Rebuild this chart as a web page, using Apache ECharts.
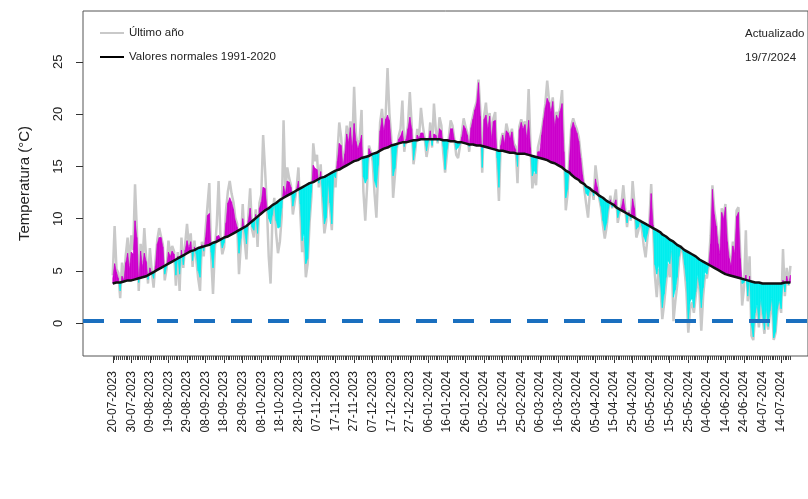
<!DOCTYPE html>
<html>
<head>
<meta charset="utf-8">
<script src="https://cdn.jsdelivr.net/npm/echarts@6/dist/echarts.min.js"></script>
<style>
  html, body { margin: 0; padding: 0; background: #ffffff; }
  #grafico { width: 808px; height: 499px; }
</style>
</head>
<body>
<div id="grafico"></div>
<script>
// Etiquetas del eje X: una cada 10 días desde el 20-07-2023
const etiquetasFecha = [
  '20-07-2023','30-07-2023','09-08-2023','19-08-2023','29-08-2023','08-09-2023',
  '18-09-2023','28-09-2023','08-10-2023','18-10-2023','28-10-2023','07-11-2023',
  '17-11-2023','27-11-2023','07-12-2023','17-12-2023','27-12-2023','06-01-2024',
  '16-01-2024','26-01-2024','05-02-2024','15-02-2024','25-02-2024','06-03-2024',
  '16-03-2024','26-03-2024','05-04-2024','15-04-2024','25-04-2024','05-05-2024',
  '15-05-2024','25-05-2024','04-06-2024','14-06-2024','24-06-2024','04-07-2024',
  '14-07-2024'
];

// Temperatura normal diaria 1991-2020 (°C), un valor por día desde el 20-07
const normales = [
  3.8,3.8,3.9,3.9,3.9,4.0,4.0,4.0,4.1,4.1,
  4.1,4.2,4.2,4.2,4.3,4.3,4.4,4.4,4.5,4.6,
  4.7,4.8,4.9,5.0,5.1,5.2,5.3,5.4,5.5,5.6,
  5.7,5.8,5.9,6.0,6.1,6.2,6.3,6.4,6.5,6.6,
  6.7,6.8,6.9,7.0,7.0,7.1,7.2,7.2,7.3,7.3,
  7.4,7.5,7.5,7.6,7.7,7.8,7.8,7.9,8.0,8.1,
  8.2,8.2,8.3,8.4,8.5,8.6,8.7,8.8,8.9,9.0,
  9.1,9.2,9.3,9.4,9.6,9.7,9.9,10.0,10.2,10.3,
  10.5,10.6,10.8,10.9,11.0,11.1,11.3,11.4,11.5,11.6,
  11.8,11.9,12.0,12.1,12.2,12.3,12.4,12.5,12.6,12.7,
  12.8,12.9,13.0,13.1,13.2,13.3,13.4,13.5,13.5,13.6,
  13.7,13.8,13.9,14.0,14.0,14.1,14.2,14.3,14.4,14.5,
  14.6,14.7,14.7,14.8,14.9,15.0,15.1,15.2,15.3,15.4,
  15.5,15.5,15.6,15.7,15.8,15.8,15.9,16.0,16.0,16.1,
  16.2,16.3,16.3,16.4,16.5,16.6,16.7,16.7,16.8,16.9,
  17.0,17.0,17.1,17.1,17.2,17.2,17.3,17.3,17.3,17.4,
  17.4,17.4,17.5,17.5,17.5,17.5,17.6,17.6,17.6,17.6,
  17.6,17.6,17.6,17.6,17.6,17.6,17.6,17.5,17.5,17.5,
  17.5,17.4,17.4,17.4,17.4,17.3,17.3,17.3,17.3,17.2,
  17.2,17.2,17.1,17.1,17.1,17.1,17.0,17.0,17.0,17.0,
  16.9,16.9,16.8,16.8,16.7,16.7,16.6,16.6,16.5,16.5,
  16.5,16.4,16.4,16.4,16.3,16.3,16.3,16.3,16.2,16.2,
  16.2,16.2,16.2,16.1,16.1,16.1,16.0,16.0,15.9,15.9,
  15.8,15.8,15.7,15.6,15.6,15.5,15.4,15.4,15.3,15.2,
  15.1,15.0,14.9,14.8,14.6,14.5,14.4,14.2,14.1,13.9,
  13.8,13.7,13.5,13.4,13.3,13.1,13.0,12.9,12.7,12.6,
  12.5,12.4,12.2,12.1,12.0,11.9,11.7,11.6,11.5,11.4,
  11.3,11.1,11.0,10.9,10.8,10.7,10.6,10.5,10.4,10.3,
  10.2,10.1,10.0,9.9,9.8,9.7,9.6,9.5,9.4,9.3,
  9.2,9.1,9.0,8.9,8.8,8.7,8.5,8.4,8.3,8.2,
  8.0,7.9,7.8,7.7,7.5,7.4,7.3,7.2,7.0,6.9,
  6.8,6.7,6.6,6.5,6.4,6.3,6.1,6.0,5.9,5.8,
  5.7,5.6,5.5,5.4,5.3,5.2,5.1,5.0,4.9,4.8,
  4.7,4.7,4.6,4.5,4.5,4.4,4.4,4.3,4.3,4.2,
  4.2,4.1,4.1,4.0,4.0,4.0,3.9,3.9,3.9,3.9,
  3.8,3.8,3.8,3.8,3.8,3.8,3.8,3.8,3.8,3.8,
  3.8,3.8,3.9,3.9,3.9,3.9
];

// Temperatura media diaria del último año (°C)
const ultimoAno = [
  4.6,9.3,5.2,4.8,2.4,5.8,4.1,6.5,8.2,5.6,
  8.4,7.0,13.3,8.9,3.1,7.6,5.8,9.1,6.2,3.8,
  7.2,5.0,3.4,5.9,8.0,9.1,8.3,7.5,4.1,5.2,
  7.9,6.5,7.4,6.9,3.6,6.8,3.1,8.2,5.3,7.6,
  9.5,7.4,8.6,5.4,7.9,6.1,4.3,3.1,7.8,6.4,
  9.0,11.2,13.4,6.4,2.8,7.1,9.4,13.6,8.3,6.6,
  7.3,10.8,12.6,13.6,12.4,11.6,10.1,9.5,4.7,7.6,
  11.4,8.0,6.1,10.2,12.9,9.0,8.2,10.9,7.3,11.5,
  12.3,18.0,14.8,11.2,6.4,3.8,10.1,12.0,8.6,6.7,
  7.8,10.2,19.4,12.5,14.9,13.9,13.2,10.4,11.6,12.9,
  14.9,10.6,6.8,8.2,4.4,5.7,9.6,12.1,17.2,15.5,
  16.1,13.0,15.2,11.4,8.6,9.8,13.6,11.0,8.9,14.2,
  13.0,16.2,19.2,17.8,15.0,16.4,18.9,17.5,19.3,16.8,
  22.6,18.0,16.9,17.6,20.4,12.6,9.8,13.1,17.0,16.4,
  15.5,12.4,10.1,14.8,19.2,20.5,18.6,19.9,24.4,20.1,
  17.8,12.0,14.2,16.6,17.9,18.6,21.3,16.4,17.8,18.9,
  22.1,19.0,15.2,16.6,18.6,17.8,20.6,18.9,17.7,15.9,
  17.0,19.2,16.8,21.0,18.5,17.2,19.7,18.9,16.3,14.4,
  16.2,17.8,19.4,18.9,17.6,16.1,15.8,16.9,18.1,19.6,
  18.8,18.2,16.4,19.0,19.8,20.6,21.2,23.3,20.3,14.4,
  19.8,21.1,18.9,20.1,17.8,19.6,20.2,15.4,11.7,17.4,
  18.2,17.4,19.1,18.3,17.9,18.6,17.2,16.9,13.4,18.8,
  19.5,18.8,19.3,17.9,22.4,17.0,12.9,14.4,13.2,16.8,
  16.7,18.4,19.6,21.0,23.2,21.3,20.4,21.6,19.0,20.2,
  19.8,20.6,22.3,17.0,10.8,12.4,16.2,18.9,19.6,19.0,
  18.5,17.8,16.2,14.6,12.8,11.4,10.1,12.6,12.9,11.8,
  15.1,13.6,12.0,11.0,9.4,8.1,9.2,10.9,12.2,11.0,
  11.6,12.8,9.6,10.6,11.4,13.2,11.0,9.2,10.8,9.8,
  13.6,11.4,8.2,8.8,9.9,9.0,7.4,6.3,8.2,9.6,
  13.3,9.6,4.6,2.5,5.2,3.4,0.4,1.9,3.8,5.7,
  4.4,6.9,0.2,2.1,3.6,6.0,7.4,6.8,5.1,3.0,
  -0.9,1.4,2.0,1.0,2.6,4.4,3.2,-0.7,2.6,4.6,
  4.3,5.6,8.4,13.2,10.8,9.6,7.9,6.8,11.0,10.2,
  11.4,8.0,6.4,5.6,7.8,6.9,10.8,11.1,6.5,1.7,
  3.4,8.9,2.1,6.4,-1.2,-1.6,0.8,1.6,-0.4,2.2,
  0.6,-1.0,1.4,-0.6,0.9,2.3,-1.6,-0.9,1.2,2.0,
  1.0,7.1,2.6,5.3,3.6,5.5
];

// Borde de la anomalía sombreada (°C): rosa por encima de lo normal, cian por debajo
const relleno = [
  4.3,5.7,4.9,4.3,3.1,4.5,4.1,5.8,6.7,5.2,
  6.8,6.6,9.8,8.2,3.9,6.9,5.4,6.7,5.9,4.2,
  5.3,4.8,4.3,5.5,7.6,8.2,8.2,7.3,4.7,5.4,
  6.8,6.4,6.9,6.6,4.6,6.4,4.7,7.0,5.6,7.0,
  7.9,7.2,7.8,6.0,7.3,6.6,5.0,4.4,7.5,6.9,
  8.2,10.3,10.5,6.8,5.3,7.5,8.3,8.4,8.1,7.2,
  7.7,9.6,11.5,12.0,11.6,10.9,9.8,9.2,6.7,8.1,
  10.0,8.8,7.6,9.8,11.0,9.2,8.9,10.4,8.6,11.0,
  11.6,13.0,12.9,11.1,10.0,9.5,10.4,11.5,9.8,9.1,
  9.2,11.0,13.1,12.4,13.6,13.5,13.0,11.2,12.0,12.8,
  13.6,11.4,7.9,8.6,5.7,6.2,9.9,12.5,15.1,14.8,
  14.7,13.4,14.5,12.1,9.5,10.1,13.6,11.5,9.5,14.2,
  13.9,15.5,17.2,17.0,15.0,16.2,18.1,17.3,18.7,16.6,
  19.1,17.4,16.7,17.2,18.0,14.0,13.4,13.8,16.7,16.3,
  15.9,13.6,13.0,15.1,18.4,19.6,18.4,19.5,19.9,19.4,
  17.3,14.1,14.8,16.8,17.6,17.9,18.4,16.9,17.6,18.6,
  19.7,18.6,15.6,16.8,18.0,17.7,18.2,18.2,17.6,16.5,
  17.4,18.4,17.0,18.1,18.0,17.4,18.6,18.4,16.9,14.7,
  16.6,17.6,18.6,18.6,17.5,16.6,16.8,17.1,17.8,18.9,
  18.6,18.0,16.9,18.7,19.5,20.4,21.0,23.0,19.8,14.9,
  19.5,19.9,18.6,19.8,17.6,19.3,19.4,15.8,13.0,17.0,
  18.0,17.2,18.4,18.2,17.7,18.3,17.0,16.6,15.0,18.5,
  19.2,18.6,19.0,17.7,19.4,16.8,14.1,14.6,14.3,16.4,
  16.4,18.0,19.4,20.6,21.5,21.1,20.2,21.2,18.8,19.9,
  19.5,20.3,21.0,16.4,12.0,12.8,15.6,18.6,19.2,18.7,
  18.2,17.4,15.8,14.2,13.1,12.4,12.2,12.8,12.8,12.2,
  13.8,13.0,12.0,11.2,9.8,8.9,9.6,11.0,11.8,11.1,
  11.4,11.8,10.1,10.7,11.1,11.9,10.8,9.6,10.6,10.0,
  11.9,11.0,9.0,9.2,9.8,9.3,8.3,7.8,8.6,9.4,
  12.4,9.4,5.6,4.7,5.6,3.8,1.5,2.8,4.4,6.0,
  5.7,7.2,2.5,3.2,4.4,6.4,7.3,6.9,5.6,4.0,
  0.2,2.1,2.4,1.5,3.0,4.7,3.6,1.5,3.4,4.9,
  4.7,5.6,7.6,12.8,10.4,9.3,7.6,6.6,10.6,10.0,
  11.1,7.8,6.2,5.5,7.4,6.7,10.2,10.6,6.2,3.8,
  3.9,4.6,2.6,4.5,-0.2,-1.3,1.0,1.8,0.2,2.4,
  0.9,-0.6,1.6,-0.3,1.2,2.5,-1.4,-0.8,1.4,2.2,
  1.4,4.1,3.0,4.5,3.7,4.6
];

// Línea de referencia (heladas) y marcas del eje Y
const umbralHelada = 0.2;
const marcasY = [0, 5, 10, 15, 20, 25];
const nombresSeries = ['Último año', 'Valores normales 1991-2020'];
const textoActualizado = ['Actualizado', '19/7/2024'];

// ---- Geometría del gráfico (px) ----
const CAJA = { left: 83, top: 11, right: 814, bottom: 356 };
const X_DIA0 = 113, PX_POR_DIA = 1.872;
const Y_CERO = 323.3, PX_POR_GRADO = 10.46;
const xMin = (CAJA.left - X_DIA0) / PX_POR_DIA;
const xMax = (CAJA.right - X_DIA0) / PX_POR_DIA;
const yMax = (Y_CERO - CAJA.top) / PX_POR_GRADO;
const yMin = (Y_CERO - CAJA.bottom) / PX_POR_GRADO;

const FUENTE = '"Liberation Sans", Arial, sans-serif';
const TEXTO = '#222222';
const GRIS = '#c9c9c9';
const MAGENTA = '#cc00cc';
const CIAN = '#00eeee';
const AZUL = '#1a6fbf';

const dias = normales.map((_, i) => i);
const marcasX = etiquetasFecha.map((_, k) => k * 10);

const serieUltimo = ultimoAno.map((v, i) => [i, v]);
const serieNormal = normales.map((v, i) => [i, v]);
const tramos = [];
for (let i = 0; i < relleno.length - 1; i++) {
  tramos.push([i, relleno[i], normales[i], relleno[i + 1], normales[i + 1]]);
}

// Dibuja el área entre el relleno y la normal de un día al siguiente,
// partiendo el tramo donde la anomalía cambia de signo.
function dibujarTramo(params, api) {
  const x0 = api.value(0), f0 = api.value(1), n0 = api.value(2);
  const f1 = api.value(3), n1 = api.value(4), x1 = x0 + 1;
  const d0 = f0 - n0, d1 = f1 - n1;
  const poligono = (pts, c) => ({
    type: 'polygon',
    shape: { points: pts.map(p => api.coord(p)) },
    style: { fill: c, stroke: c, lineWidth: 0.6 }
  });
  const hijos = [];
  if (d0 * d1 >= 0) {
    const s = d0 !== 0 ? d0 : d1;
    if (s !== 0) {
      hijos.push(poligono([[x0, f0], [x1, f1], [x1, n1], [x0, n0]], s > 0 ? MAGENTA : CIAN));
    }
  } else {
    const t = d0 / (d0 - d1);
    const xc = x0 + t, yc = n0 + t * (n1 - n0);
    hijos.push(poligono([[x0, f0], [xc, yc], [x0, n0]], d0 > 0 ? MAGENTA : CIAN));
    hijos.push(poligono([[xc, yc], [x1, f1], [x1, n1]], d1 > 0 ? MAGENTA : CIAN));
  }
  return { type: 'group', children: hijos };
}

const grafico = echarts.init(document.getElementById('grafico'), null, { renderer: 'canvas' });

grafico.setOption({
  animation: false,
  backgroundColor: '#ffffff',
  textStyle: { fontFamily: FUENTE },
  grid: {
    left: CAJA.left, top: CAJA.top,
    right: 808 - CAJA.right, bottom: 499 - CAJA.bottom,
    show: true, borderColor: '#555555', borderWidth: 1, backgroundColor: 'transparent'
  },
  legend: {
    orient: 'vertical', left: 95, top: 22,
    itemWidth: 24, itemHeight: 2, itemGap: 12, icon: 'rect',
    selectedMode: false,
    textStyle: { fontSize: 11.5, color: TEXTO, fontFamily: FUENTE },
    data: nombresSeries
  },
  graphic: [
    { type: 'text', left: 745, top: 28, style: { text: textoActualizado[0], font: '11.5px ' + FUENTE, fill: TEXTO } },
    { type: 'text', left: 745, top: 52, style: { text: textoActualizado[1], font: '11.5px ' + FUENTE, fill: TEXTO } }
  ],
  xAxis: [
    {
      type: 'value', min: xMin, max: xMax, position: 'bottom',
      axisLine: { show: false, onZero: false }, splitLine: { show: false },
      axisTick: { show: true, customValues: marcasX, length: 7, lineStyle: { color: '#333333' } },
      axisLabel: {
        customValues: marcasX, rotate: 90, margin: 15,
        fontSize: 12, color: TEXTO, fontFamily: FUENTE,
        formatter: v => etiquetasFecha[Math.round(v / 10)]
      }
    },
    {
      type: 'value', min: xMin, max: xMax, position: 'bottom',
      axisLine: { show: false, onZero: false }, splitLine: { show: false },
      axisTick: { show: true, customValues: dias, length: 4, lineStyle: { color: '#444444' } },
      axisLabel: { show: false }
    }
  ],
  yAxis: {
    type: 'value', min: yMin, max: yMax, position: 'left',
    axisLine: { show: false, onZero: false }, splitLine: { show: false },
    axisTick: { show: true, customValues: marcasY, length: 7, lineStyle: { color: '#333333' } },
    axisLabel: { customValues: marcasY, rotate: 90, margin: 18, fontSize: 13, color: TEXTO, fontFamily: FUENTE },
    name: 'Temperatura (°C)', nameLocation: 'middle', nameRotate: 90, nameGap: 51,
    nameTextStyle: { fontSize: 15, color: TEXTO, fontFamily: FUENTE }
  },
  series: [
    {
      name: nombresSeries[0], type: 'line', data: serieUltimo,
      xAxisIndex: 0, showSymbol: false, symbol: 'none', z: 2,
      itemStyle: { color: GRIS },
      lineStyle: { color: GRIS, width: 2.5 }
    },
    {
      name: 'anomalia', type: 'custom', data: tramos, renderItem: dibujarTramo,
      xAxisIndex: 0, encode: { x: 0, y: 1 }, clip: true, z: 3, silent: true
    },
    {
      name: nombresSeries[1], type: 'line', data: serieNormal,
      xAxisIndex: 0, showSymbol: false, symbol: 'none', z: 4,
      itemStyle: { color: '#000000' },
      lineStyle: { color: '#111111', width: 2.5 },
      markLine: {
        silent: true, symbol: ['none', 'none'], label: { show: false }, z: 6,
        lineStyle: { color: AZUL, width: 4, type: [21, 16] },
        data: [{ yAxis: umbralHelada }]
      }
    }
  ]
});
</script>
</body>
</html>
